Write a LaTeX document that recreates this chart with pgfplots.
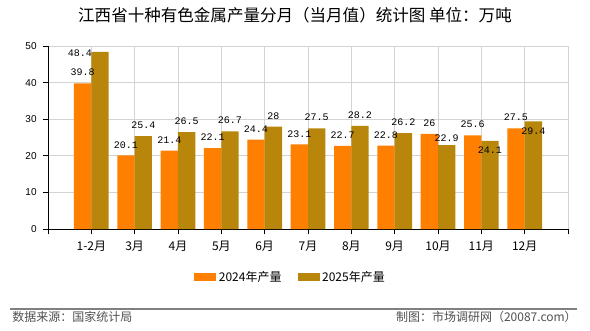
\documentclass[border=0pt]{standalone}
\usepackage{fontspec}
\setmainfont{Noto Sans CJK SC}
\setmonofont{Liberation Mono}
\newfontfamily\lsans{Liberation Sans}
\usepackage{pgfplots}
\usepackage{pgfplotstable}
\pgfplotsset{compat=1.18}
\definecolor{c24}{HTML}{FF8000}
\definecolor{c25}{HTML}{B8860B}
\definecolor{gridc}{HTML}{D3D3D3}
\definecolor{foot}{HTML}{505050}
\pgfplotstableread{
x y dx dy
1 39.8 0 0
2 20.1 0 0
3 21.4 0 0
4 22.1 0 0
5 24.4 0 0
6 23.1 0 0
7 22.7 0 0
8 22.8 0 0
9 26 0 0
10 25.6 0 0
11 27.5 0 0
}\tableA
\pgfplotstableread{
x y dx dy
1 48.4 -15 -9
2 25.4 0 0
3 26.5 0 0
4 26.7 0 0
5 28 0 0
6 27.5 0 0
7 28.2 0 0
8 26.2 0 0
9 22.9 0 -3
10 24.1 0 -15
11 29.4 0 -15.5
}\tableB
\begin{document}
\begin{tikzpicture}
\useasboundingbox (0,0) rectangle (442.5pt,247.5pt);
\begin{axis}[
 at={(36pt,75.75pt)}, anchor=south west,
 scale only axis, width=390pt, height=137.25pt,
 xmin=0, xmax=12, ymin=0, ymax=50,
 ybar, bar width=0.4,
 axis lines=left, axis line style={-, black, line width=0.6pt},
 xtick={0,...,12},
 xticklabels={,1-2月,3月,4月,5月,6月,7月,8月,9月,10月,11月,12月,},
 ytick={0,10,...,50},
 grid=major, major grid style={gridc, line width=0.6pt},
 tick align=outside, tick style={black, line width=0.6pt},
 major tick length=4pt,
 yticklabel style={font=\lsans\fontsize{7.5}{8}\selectfont, xshift=-1pt},
 xticklabel style={font=\fontsize{9}{10}\selectfont, yshift=-1.25pt},
 /pgf/number format/assume math mode=true,
 legend style={at={(0.467,-0.262)}, anchor=center, draw=none, fill=none,
   font=\fontsize{9}{10}\selectfont, legend columns=2,
   /tikz/every even column/.append style={column sep=10pt}},
 legend image code/.code={\fill[#1] (0pt,-3pt) rectangle (16.5pt,3pt);},
]
\addplot[fill=c24, draw=none, bar shift=-0.2, nodes near coords,
  nodes near coords style={font=\ttfamily\fontsize{7.5}{8}\selectfont, text=black, inner sep=1.5pt,
    yshift=3.75pt}] table[x=x,y=y] {\tableA};
\addlegendentry{2024年产量}
\addplot[fill=c25, draw=none, bar shift=0.2, nodes near coords,
  visualization depends on={\thisrow{dx} \as \dx},
  visualization depends on={\thisrow{dy} \as \dy},
  nodes near coords style={font=\ttfamily\fontsize{7.5}{8}\selectfont, text=black, inner sep=1.5pt,
    xshift=\dx pt, yshift=3.75pt+\dy pt}] table[x=x,y=y] {\tableB};
\addlegendentry{2025年产量}
\end{axis}
\node[font=\fontsize{12.4}{14}\selectfont] at (221.25pt,235.9pt) {江西省十种有色金属产量分月（当月值）统计图 单位：万吨};
\draw[gray, line width=0.8pt] (7.5pt,15.75pt) -- (432.75pt,15.75pt);
\node[anchor=west, text=foot, font=\fontsize{9}{10}\selectfont, inner sep=0pt] at (9pt,9.75pt) {数据来源：国家统计局};
\node[anchor=east, text=foot, font=\fontsize{9}{10}\selectfont, inner sep=0pt] at (432.75pt,9.75pt) {制图：市场调研网（20087.com）};
\end{tikzpicture}
\end{document}
